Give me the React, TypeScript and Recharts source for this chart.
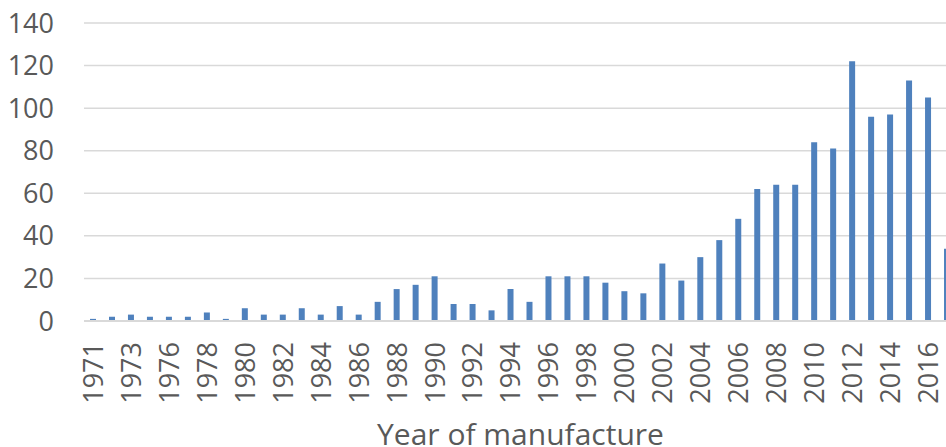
import { BarChart, Bar, XAxis, YAxis, CartesianGrid } from "recharts";

// Vehicles by year of manufacture (1975 has no entry)
const YEARS = [
  "1971", "1972", "1973", "1974", "1976", "1977", "1978", "1979", "1980",
  "1981", "1982", "1983", "1984", "1985", "1986", "1987", "1988", "1989",
  "1990", "1991", "1992", "1993", "1994", "1995", "1996", "1997", "1998",
  "1999", "2000", "2001", "2002", "2003", "2004", "2005", "2006", "2007",
  "2008", "2009", "2010", "2011", "2012", "2013", "2014", "2015", "2016",
  "2017",
];

const COUNTS = [
  1, 2, 3, 2, 2, 2, 4, 1, 6,
  3, 3, 6, 3, 7, 3, 9, 15, 17,
  21, 8, 8, 5, 15, 9, 21, 21, 21,
  18, 14, 13, 27, 19, 30, 38, 48, 62,
  64, 64, 84, 81, 122, 96, 97, 113, 105,
  34,
];

const Y_TICKS = [0, 20, 40, 60, 80, 100, 120, 140];

const TEXT_COLOR = "#595959";
const BAR_COLOR = "#4F81BD";
const GRID_COLOR = "#D9D9D9";

const data = YEARS.map((year, i) => ({ year, count: COUNTS[i] }));

function YearTick({ x, y, payload }: any) {
  return (
    <text
      x={x}
      y={y}
      transform={`rotate(-90 ${x} ${y})`}
      textAnchor="end"
      dy="0.35em"
      fill={TEXT_COLOR}
      fontSize={27}
    >
      {payload.value}
    </text>
  );
}

export default function App() {
  return (
    <div
      style={{
        position: "fixed",
        left: 0,
        top: 0,
        width: 946,
        height: 447,
        overflow: "hidden",
        background: "#fff",
      }}
    >
      <BarChart
        width={960}
        height={447}
        data={data}
        margin={{ top: 23, right: 3, left: 0, bottom: 0 }}
        style={{ fontFamily: "'Open Sans', sans-serif" }}
      >
        <CartesianGrid
          vertical={false}
          stroke={GRID_COLOR}
          strokeWidth={1.5}
        />
        <XAxis
          dataKey="year"
          interval={1}
          height={126}
          tickSize={0}
          tickMargin={21}
          tick={<YearTick />}
          axisLine={{ stroke: GRID_COLOR, strokeWidth: 2 }}
          tickLine={false}
          label={{
            value: "Year of manufacture",
            position: "insideBottom",
            offset: 2,
            fill: TEXT_COLOR,
            fontSize: 30,
          }}
        />
        <YAxis
          width={84}
          domain={[0, 140]}
          ticks={Y_TICKS}
          axisLine={false}
          tickLine={false}
          tickSize={0}
          tickMargin={30}
          tick={{ fill: TEXT_COLOR, fontSize: 27 }}
        />
        <Bar
          dataKey="count"
          fill={BAR_COLOR}
          barSize={6}
          isAnimationActive={false}
        />
      </BarChart>
    </div>
  );
}
